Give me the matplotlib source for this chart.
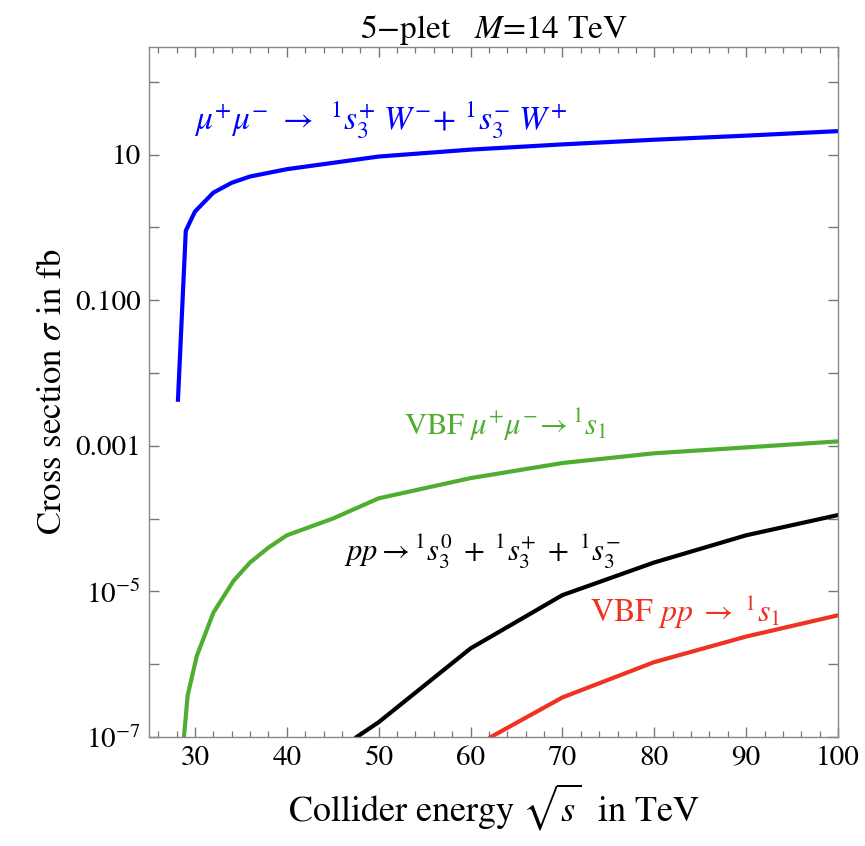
import numpy as np
import matplotlib
matplotlib.use("Agg")
import matplotlib.pyplot as plt
from matplotlib.ticker import FixedLocator, FixedFormatter, MultipleLocator

plt.rcParams["font.family"] = "STIXGeneral"
plt.rcParams["mathtext.fontset"] = "stix"

# ---------------- DATA ----------------
# mu+ mu- -> s3+ W- + s3- W+
mumu_x = [28.15, 29.0, 30.0, 32.0, 34.0, 36.0, 40.0, 50.0, 60.0, 70.0, 80.0, 90.0, 100.0]
mumu_y = [0.0043, 0.9, 1.65, 3.0, 4.1, 5.0, 6.3, 9.4, 11.7, 13.8, 16.0, 18.2, 21.0]

# VBF mu+ mu- -> s1
vbfmu_x = [28.8, 29.2, 30.2, 32.0, 34.2, 36.0, 38.0, 40.0, 45.0, 50.0, 60.0, 70.0, 80.0, 90.0, 100.0]
vbfmu_y = [1e-7, 3.7e-7, 1.3e-6, 5.1e-6, 1.4e-5, 2.5e-5, 4.0e-5, 5.9e-5, 1.0e-4, 1.9e-4,
           3.6e-4, 5.8e-4, 7.9e-4, 9.5e-4, 1.15e-3]

# pp -> s3 (0,+,-)
pp_x = [47.6, 50.0, 60.0, 70.0, 80.0, 90.0, 100.0]
pp_y = [1e-7, 1.6e-7, 1.65e-6, 8.9e-6, 2.5e-5, 5.9e-5, 1.12e-4]

# VBF pp -> s1
vbfpp_x = [62.2, 70.0, 80.0, 90.0, 100.0]
vbfpp_y = [1e-7, 3.5e-7, 1.07e-6, 2.4e-6, 4.7e-6]

BLUE = "#0000FF"
GREEN = "#4FAE32"
BLACK = "#000000"
RED = "#EE3322"

fig = plt.figure(figsize=(8.65, 8.46), dpi=100)
ax = fig.add_axes([0.1723, 0.1288, 0.7965, 0.8156])

ax.plot(mumu_x, mumu_y, color=BLUE, lw=3.0, solid_joinstyle="round")
ax.plot(vbfmu_x, vbfmu_y, color=GREEN, lw=3.0, solid_joinstyle="round")
ax.plot(pp_x, pp_y, color=BLACK, lw=3.0, solid_joinstyle="round")
ax.plot(vbfpp_x, vbfpp_y, color=RED, lw=3.0, solid_joinstyle="round")

ax.set_yscale("log")
ax.set_xlim(25, 100)
ax.set_ylim(1e-7, 300)

# y ticks: every decade, labels every two decades
ydec = [10.0 ** k for k in range(-7, 3)]
ylab = {-7: r"$10^{-7}$", -5: r"$10^{-5}$", -3: "0.001", -1: "0.100", 1: "10"}
ax.yaxis.set_major_locator(FixedLocator(ydec))
ax.yaxis.set_major_formatter(FixedFormatter([ylab.get(k, "") for k in range(-7, 3)]))
ax.yaxis.set_minor_locator(FixedLocator([]))

ax.xaxis.set_major_locator(MultipleLocator(10))
ax.xaxis.set_minor_locator(MultipleLocator(2))

ax.tick_params(which="both", direction="in", top=True, right=True,
               color="#777777", labelsize=21, pad=6)
ax.tick_params(which="major", length=7, width=1.0)
ax.tick_params(which="minor", length=4, width=0.9)
for sp in ax.spines.values():
    sp.set_color("#888888")
    sp.set_linewidth(1.0)

ax.set_xlabel(r"Collider energy $\sqrt{s}$  in TeV", fontsize=26, labelpad=8)
ax.set_ylabel(r"Cross section $\sigma$ in fb", fontsize=25, labelpad=4)
ax.set_title(r"5$-$plet   $M$=14 TeV", fontsize=24, pad=4)

ax.text(0.065, 0.893,
        r"$\mu^{+}\mu^{-}\ \rightarrow\ \,{}^{1}s_{3}^{+}\;W^{-}\!+\,{}^{1}s_{3}^{-}\ W^{+}$",
        transform=ax.transAxes, color=BLUE, fontsize=24, va="center", ha="left")
ax.text(0.370, 0.452, r"VBF $\mu^{+}\mu^{-}\!\rightarrow{}^{1}s_{1}$",
        transform=ax.transAxes, color=GREEN, fontsize=22, va="center", ha="left")
ax.text(0.283, 0.268,
        r"$pp\rightarrow{}^{1}s_{3}^{0}\;+\;{}^{1}s_{3}^{+}\;+\;{}^{1}s_{3}^{-}$",
        transform=ax.transAxes, color=BLACK, fontsize=22, va="center", ha="left")
ax.text(0.640, 0.181, r"VBF $pp\;\rightarrow\;{}^{1}s_{1}$",
        transform=ax.transAxes, color=RED, fontsize=23, va="center", ha="left")

fig.savefig("out.png", dpi=100)
